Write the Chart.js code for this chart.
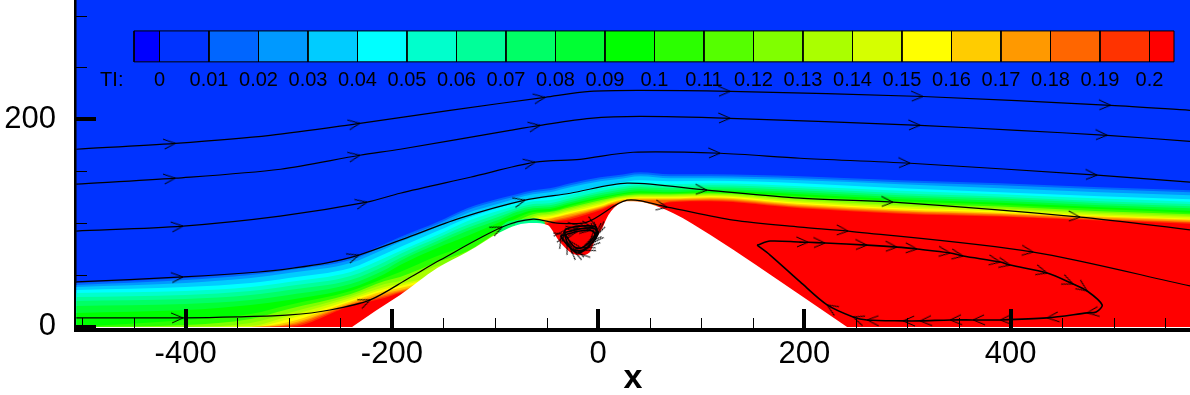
<!DOCTYPE html>
<html>
<head>
<meta charset="utf-8">
<title>TI contours</title>
<script src="https://cdn.jsdelivr.net/npm/chart.js@4/dist/chart.umd.min.js"></script>
<style>
  html, body { margin: 0; padding: 0; background: #fff; }
  canvas { display: block; }
</style>
</head>
<body>
<canvas id="chart" width="1190" height="395"></canvas>
<script>
// axis values
const xMajorTicks = [-400, -200, 0, 200, 400];
const xMinorTicks = [-500, -450, -350, -300, -250, -150, -100, -50, 50, 100, 150, 250, 300, 350, 450, 500, 550];
const yMajorTicks = [0, 200];
const yMinorTicks = [50, 100, 150, 250, 300];

// colour bar
const legendLevels = [0, 0.01, 0.02, 0.03, 0.04, 0.05, 0.06, 0.07, 0.08, 0.09, 0.1, 0.11, 0.12, 0.13, 0.14, 0.15, 0.16, 0.17, 0.18, 0.19, 0.2];
const legendLabels = ['0', '0.01', '0.02', '0.03', '0.04', '0.05', '0.06', '0.07', '0.08', '0.09', '0.1', '0.11', '0.12', '0.13', '0.14', '0.15', '0.16', '0.17', '0.18', '0.19', '0.2'];
const legendEdges = [-0.00515, 0, 0.01, 0.02, 0.03, 0.04, 0.05, 0.06, 0.07, 0.08, 0.09, 0.1, 0.11, 0.12, 0.13, 0.14, 0.15, 0.16, 0.17, 0.18, 0.19, 0.2, 0.20495];
const legendColors = ['#0000ff', '#0033ff', '#0066ff', '#0099ff', '#00ccff', '#00ffff', '#00ffcc', '#00ff99', '#00ff66', '#00ff33', '#00ff00', '#2bff00', '#55ff00', '#80ff00', '#aaff00', '#d5ff00', '#ffff00', '#ffcc00', '#ff9900', '#ff6600', '#ff3300', '#ff0000'];

// TI field: height of each contour above the ground at fieldX, painted low to high
const fieldX = [-506, -400, -337, -300, -240, -207, -192, -156, -127, -95, -79, -63, -47, -27, 2, 18, 41, 70, 109, 196, 293, 390, 487, 574];
const backgroundTop = [315, 315, 315, 315, 315, 315, 315, 315, 315, 315, 315, 315, 315, 315, 315, 315, 315, 315, 315, 315, 315, 315, 315, 315];
const band01 = [42.3, 47.1, 51.9, 56.7, 66.3, 79.8, 86.5, 101, 114.4, 124, 127.9, 131.7, 133.6, 138.5, 144.2, 146.1, 149, 147.1, 147.1, 145.2, 141.3, 138.5, 134.6, 131.7];
const band02 = [40.4, 45.2, 50, 54.8, 64.4, 77.9, 84.6, 99, 112.5, 122.1, 126, 129.8, 131.7, 136.5, 142.3, 144.2, 147.1, 145.2, 145.2, 143.3, 139.4, 136.5, 132.7, 129.8];
const band03 = [38.5, 42.3, 47.1, 51.9, 61.5, 75, 81.7, 96.2, 109.6, 119.2, 124, 127.9, 129.8, 134.6, 140.4, 142.3, 145.2, 143.3, 143.3, 141.3, 137.5, 133.6, 129.8, 126.9];
const band04 = [35.6, 38.5, 42.3, 47.1, 56.7, 70.2, 76.9, 92.3, 104.8, 115.4, 120.2, 124, 125, 129.8, 135.6, 138.5, 141.3, 140.4, 140.9, 138.5, 133.6, 129.8, 126, 123.1];
const band05 = [32.7, 34.6, 38.5, 43.3, 52.9, 66.3, 73.1, 88.5, 101.9, 112.5, 117.3, 121.1, 122.1, 126.9, 133.6, 135.6, 138.5, 137.5, 138.5, 135.6, 131.2, 127.9, 123.6, 120.7];
const band06 = [28.8, 30.8, 34.6, 39.4, 49, 62.5, 70.2, 85.6, 98.1, 109.6, 114.4, 118.3, 119.2, 124, 130.8, 133.6, 136.5, 135.6, 136.5, 133.6, 128.8, 125.5, 121.1, 118.3];
const band07 = [25, 26.9, 30.8, 35.6, 45.2, 58.7, 66.3, 82.7, 95.2, 106.7, 112.5, 116.3, 117.3, 122.1, 128.8, 131.7, 134.6, 133.6, 134.6, 131.7, 126.9, 123.6, 119.2, 116.3];
const band08 = [20.2, 22.1, 26, 30.8, 41.3, 54.8, 63.5, 79.8, 92.3, 103.8, 110.6, 114.4, 115.4, 120.2, 126.9, 129.8, 132.7, 131.7, 132.7, 129.8, 125, 121.6, 117.3, 114.4];
const band09 = [13.5, 16.3, 21.2, 26, 37.5, 51, 59.6, 76, 87.5, 101, 107.7, 112.5, 113.5, 118.3, 125, 127.9, 130.8, 129.8, 131.2, 127.9, 123.1, 119.7, 115.4, 112];
const band10 = [0, 6.7, 12.5, 21.2, 34.6, 47.1, 52.9, 68.3, 78.8, 97, 104.8, 110.6, 111.5, 116.8, 123.6, 126.9, 129.3, 128.8, 129.8, 126, 121.1, 117.8, 113.5, 110.1];
const band11 = [0, 1.9, 7.7, 17.3, 31.7, 44.2, 48.1, 62.5, 73, 93, 101.9, 108.6, 110.6, 115.4, 122.1, 125.5, 127.9, 127.9, 128.8, 124, 119.2, 115.9, 111.5, 108.6];
const band12 = [0, 0, 3.8, 13.5, 29.8, 41.3, 44.2, 58.7, 65, 80, 90, 106.7, 109.1, 113.9, 120.7, 124.5, 126.9, 126.9, 127.9, 122.6, 117.3, 114.4, 110.1, 107.2];
const band13 = [0, 0, 1, 10.6, 27.9, 38.5, 41.3, 50, 60, 75, 85, 104.8, 107.7, 112.5, 119.2, 123.6, 126, 126, 126.9, 121.1, 115.9, 113, 108.6, 105.8];
const band14 = [0, 0, 0, 7.7, 26, 36.5, 39.4, 48, 55, 70, 80, 102.9, 106.3, 111, 117.8, 122.6, 125, 125, 126, 119.7, 114.4, 111.5, 107.2, 104.3];
const band15 = [0, 0, 0, 4.8, 24.5, 34.6, 37.5, 46, 50, 65, 75, 101, 104.8, 109.6, 116.3, 121.6, 124, 124, 125, 118.3, 113, 110.1, 106.3, 103.4];
const band16 = [0, 0, 0, 2.9, 23.1, 32.7, 35.6, 44, 48, 60, 70, 95, 103.4, 108.2, 115.4, 120.7, 123.1, 123.1, 124, 117.3, 112, 109.1, 105.3, 102.4];
const band17 = [0, 0, 0, 1.9, 22.1, 30.8, 34.6, 42, 46, 55, 65, 95, 101.9, 106.7, 114.4, 119.7, 122.1, 122.1, 123.1, 116.3, 111.1, 108.2, 104.3, 101.4];
const band18 = [0, 0, 0, 1, 21.2, 29.3, 33.7, 40, 44, 50, 60, 95, 101, 105.3, 113.5, 118.7, 112, 121.1, 122.1, 115.4, 110.1, 107.2, 103.4, 100.5];
const band19 = [0, 0, 0, 0, 20.2, 27.9, 32.7, 38, 42, 45, 50, 90, 100, 103.8, 112.5, 117.8, 112, 120.2, 121.1, 114.4, 109.1, 106.3, 102.4, 99.5];
const bandColors = ['#0066ff', '#0099ff', '#00ccff', '#00ffff', '#00ffcc', '#00ff99', '#00ff66', '#00ff33', '#00ff00', '#2bff00', '#80ff00', '#aaff00', '#d5ff00', '#ffff00', '#ffcc00', '#ff9900', '#ff6600', '#ff3300', '#ff0000'];

// lower TI pocket next to the wall on the first hill
const pocketX = [-112, -95, -79, -63, -52, -47];
const pocketGreen = [0, 95, 103, 104.8, 101, 0];
const pocketSpring = [0, 0, 101, 102, 99, 0];

// solid wall
const wallX = [-238.6, -216, -192, -156, -127, -95, -79, -63, -48.5, -46.5, -37, -27, -17.5, -8, -3, 4, 10, 21, 31, 44, 73, 109, 196, 241.5];
const wallY = [0, 15.4, 30.8, 56.7, 72.1, 91.3, 98, 100, 98, 96, 81.7, 72, 69, 72, 83.6, 95, 107.7, 119.2, 121, 120, 109.6, 88.5, 30.8, 0];

// streamlines
const streamZX = [-506, -410, -318, -231, -143.6, -51.4, -7.8, 40.7, 128, 315, 497, 574];
const streamZY = [171.2, 176.9, 184.6, 196.2, 208.7, 221.2, 226.9, 227.9, 226.9, 222, 213.5, 208.7];
const streamZArrows = [1, 3, 5, 8, 9, 10];
const streamAX = [-506, -410, -308, -231, -192, -85.4, -56.3, -7.8, 40.7, 128, 312.3, 406.4, 493.7, 574];
const streamAY = [137.5, 143.3, 151.9, 165.4, 171.2, 189.4, 194.2, 201, 202.9, 201, 194.2, 189.4, 184.6, 178.8];
const streamAArrows = [1, 3, 6, 9, 10, 12];
const streamBX = [-506, -402.5, -308.4, -224, -192, -124, -61, -17.5, 34, 118.3, 196, 302.6, 484, 574];
const streamBY = [92.3, 97.1, 106.7, 120.2, 128.8, 144.2, 158.7, 161.5, 168.3, 167.3, 162.5, 157.7, 146.2, 139.4];
const streamBArrows = [1, 3, 6, 9, 11, 12];
const streamCX = [-506, -402.5, -329, -296, -264, -232, -189, -133.8, -70.8, -27, 28.1, 105.7, 196, 286, 467.5, 574];
const streamCY = [43.3, 48.1, 52.9, 56.7, 61.5, 69.2, 84.6, 104.8, 122.1, 128.8, 138.5, 131.7, 124, 120.2, 105.8, 93.5];
const streamCArrows = [1, 5, 8, 11, 13, 14];
const streamDX = [-506, -402.5, -350, -298.7, -260, -221, -183.3, -153.2, -93, -63, -39.8, -10.7, 28.1, 67, 131, 196, 242.5, 422, 574];
const streamDY = [8.7, 8.7, 9.6, 11.5, 16.3, 26, 47.1, 64.4, 96.2, 103.8, 100, 101, 122.1, 115.4, 102.9, 96.2, 92.3, 72.1, 39.5];
const streamDArrows = [1, 5, 8, 13, 16, 17];
const loopX = [154.2, 166.8, 196, 203.7, 220.2, 260.9, 290, 309.4, 341.4, 354, 390, 399.6, 435.5, 460.7, 474.3, 488.8, 483, 474.3, 435.5, 390, 363.7, 341.4, 312.3, 295.8, 260.9, 247.3, 222.1, 196, 166.8, 154.2];
const loopY = [78.8, 82.7, 81.7, 81.5, 80.8, 78.8, 76.9, 75, 71.2, 68.3, 62.5, 59.6, 51.9, 41.3, 34.6, 21.2, 14.4, 13.5, 8.7, 6.7, 6.7, 6.7, 5.8, 5.8, 6.7, 9.6, 21.2, 43.3, 69.2, 78.8];
const loopArrows = [3, 4, 5, 6, 7, 8, 9, 10, 11, 12, 13, 14, 17, 18, 19, 20, 21, 22, 23, 24, 25, 26];
const vortexX = [-34, -19.4, -4.8, 0, -5.8, -14.5, -24.2, -30, -32, -17.5, -2, -2, -9.7, -19.4, -27, -36, -31, -20, -7, -3, -8, -15, -22, -28, -33];
const vortexY = [90.4, 94.2, 95.2, 90.4, 80.8, 74, 74, 81.7, 93.3, 97.1, 96.2, 87.5, 76.9, 71.2, 76, 87.5, 89, 92, 93, 89, 82, 76.5, 76.5, 83, 92];
const vortexArrows = [1, 2, 3, 4, 5, 6, 7, 8, 9, 10, 11, 12, 13, 14, 15, 16, 17, 18, 19, 20, 21, 22, 23];

const toPoints = (xs, ys) => xs.map((x, i) => ({ x, y: ys[i] }));

const arrowHead = document.createElement('canvas');
arrowHead.width = 28;
arrowHead.height = 14;
const arrowCtx = arrowHead.getContext('2d');
arrowCtx.strokeStyle = '#000';
arrowCtx.lineWidth = 1;
arrowCtx.beginPath();
arrowCtx.moveTo(2, 2);
arrowCtx.lineTo(14, 7);
arrowCtx.lineTo(3, 12);
arrowCtx.stroke();

const datasets = [];
let layer = 0;

function addFilled(xs, ys, color) {
  datasets.push({
    data: toPoints(xs, ys),
    backgroundColor: color,
    borderWidth: 0,
    pointRadius: 0,
    cubicInterpolationMode: 'monotone',
    fill: 'origin',
    order: 1000 - layer++,
  });
}

function addStream(xs, ys, arrows, width) {
  datasets.push({
    data: toPoints(xs, ys),
    borderColor: '#000',
    borderWidth: width,
    tension: 0.3,
    fill: false,
    pointStyle: arrowHead,
    pointRadius: ctx => (arrows.includes(ctx.dataIndex) ? 6 : 0),
    pointRotation: ctx => {
      const i = ctx.dataIndex;
      const a = i > 0 ? i - 1 : i;
      const b = i < xs.length - 1 ? i + 1 : i;
      return Math.atan2(ys[a] - ys[b], xs[b] - xs[a]) * 180 / Math.PI;
    },
    order: 1000 - layer++,
  });
}

addFilled(fieldX, backgroundTop, legendColors[1]);
[band01, band02, band03, band04, band05, band06, band07, band08, band09, band10,
 band11, band12, band13, band14, band15, band16, band17, band18, band19].forEach((band, i) => {
  addFilled(fieldX, band, bandColors[i]);
});
addFilled(pocketX, pocketGreen, '#00ff66');
addFilled(pocketX, pocketSpring, '#00ff99');
addFilled(wallX, wallY, '#ffffff');

addStream(streamZX, streamZY, streamZArrows, 1.2);
addStream(streamAX, streamAY, streamAArrows, 1.2);
addStream(streamBX, streamBY, streamBArrows, 1.2);
addStream(streamCX, streamCY, streamCArrows, 1.2);
addStream(streamDX, streamDY, streamDArrows, 1.2);
addStream(loopX, loopY, loopArrows, 1.6);
addStream(vortexX, vortexY, vortexArrows, 1.6);

// colour bar cells, on their own level scale
const legendLow = 255.4;
const legendHigh = 285.2;
legendColors.forEach((color, i) => {
  const lo = legendEdges[i];
  const hi = legendEdges[i + 1];
  datasets.push({
    xAxisID: 'level',
    data: [{ x: lo, y: legendHigh }, { x: hi, y: legendHigh }],
    backgroundColor: color,
    borderWidth: 0,
    pointRadius: 0,
    fill: { target: { value: legendLow } },
    order: 1000 - layer++,
  });
  datasets.push({
    xAxisID: 'level',
    data: [{ x: lo, y: legendLow }, { x: hi, y: legendLow }, { x: hi, y: legendHigh }, { x: lo, y: legendHigh }, { x: lo, y: legendLow }],
    borderColor: '#000',
    borderWidth: 1,
    pointRadius: 0,
    fill: false,
    order: 1000 - layer++,
  });
});

const decorations = {
  id: 'decorations',
  afterDatasetsDraw(chart) {
    const { ctx, chartArea } = chart;
    const { x, y, level } = chart.scales;
    ctx.save();
    ctx.fillStyle = '#000';
    xMinorTicks.forEach(v => ctx.fillRect(Math.round(x.getPixelForValue(v)), chartArea.bottom - 12, 1, 12));
    xMajorTicks.forEach(v => ctx.fillRect(Math.round(x.getPixelForValue(v)) - 2, chartArea.bottom - 21, 4, 21));
    yMinorTicks.forEach(v => ctx.fillRect(chartArea.left, Math.round(y.getPixelForValue(v)), 11, 1));
    yMajorTicks.forEach(v => ctx.fillRect(chartArea.left, Math.round(y.getPixelForValue(v)) - 2, 20, 4));

    ctx.font = '20px "Liberation Sans"';
    ctx.textBaseline = 'middle';
    ctx.textAlign = 'center';
    legendLevels.forEach((v, i) => {
      ctx.fillText(legendLabels[i], level.getPixelForValue(v), y.getPixelForValue(237.1));
    });
    ctx.textAlign = 'left';
    ctx.fillText('TI:', level.getPixelForValue(-0.012), y.getPixelForValue(237.1));
    ctx.restore();
  },
};

// Chart.js reserves half a label of room at the scale ends, the reference runs to the edge
const noEndPadding = scale => {
  scale.paddingTop = 0;
  scale.paddingBottom = 0;
  scale.paddingLeft = 0;
  scale.paddingRight = 0;
};

new Chart(document.getElementById('chart'), {
  type: 'line',
  data: { datasets },
  plugins: [decorations],
  options: {
    responsive: false,
    animation: false,
    events: [],
    layout: { padding: 0 },
    plugins: { legend: { display: false }, tooltip: { enabled: false } },
    scales: {
      x: {
        type: 'linear',
        position: 'bottom',
        min: -506.3,
        max: 574,
        grid: { display: false, drawTicks: false },
        border: { color: '#000', width: 4 },
        afterFit: scale => { scale.height = 65; noEndPadding(scale); },
        afterBuildTicks: scale => { scale.ticks = xMajorTicks.map(value => ({ value })); },
        ticks: {
          color: '#000',
          padding: 6,
          maxRotation: 0,
          font: { family: '"Liberation Sans"', size: 31 },
          callback: value => String(value),
        },
        title: {
          display: true,
          text: 'x',
          color: '#000',
          padding: { top: 0, bottom: -4 },
          font: { family: '"Liberation Sans"', size: 34, weight: 'bold' },
        },
      },
      level: {
        type: 'linear',
        position: 'top',
        display: false,
        min: -0.01687,
        max: 0.20818,
        afterFit: noEndPadding,
      },
      y: {
        type: 'linear',
        position: 'left',
        min: -3,
        max: 315,
        grid: { display: false, drawTicks: false },
        border: { color: '#000', width: 4 },
        afterFit: scale => { scale.width = 76; noEndPadding(scale); },
        afterBuildTicks: scale => { scale.ticks = yMajorTicks.map(value => ({ value })); },
        ticks: {
          color: '#000',
          padding: 20,
          font: { family: '"Liberation Sans"', size: 31 },
          callback: value => String(value),
        },
      },
    },
  },
});
</script>
</body>
</html>
